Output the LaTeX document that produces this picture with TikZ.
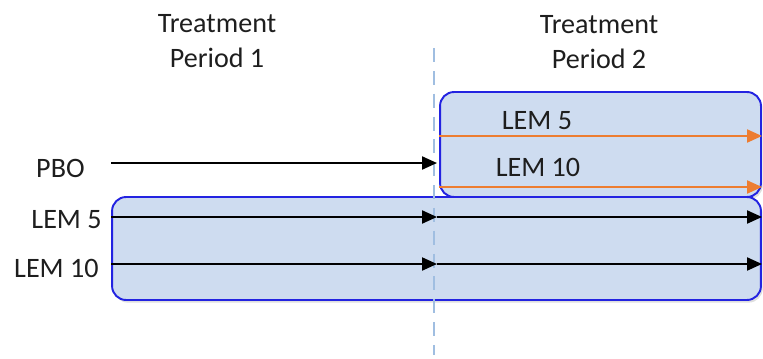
\documentclass[tikz,border=0pt]{standalone}
\usepackage{fontspec}
\setmainfont{Carlito}
\usetikzlibrary{arrows.meta,shadows}
\definecolor{boxfill}{RGB}{206,220,240}
\definecolor{boxline}{RGB}{35,35,225}
\definecolor{armcol}{RGB}{237,125,49}
\definecolor{splitcol}{RGB}{160,190,225}
\definecolor{txtcol}{RGB}{30,30,30}

\begin{document}
\begin{tikzpicture}[
    x=0.02cm, y=-0.02cm,
    >={Triangle[length=3mm,width=2.6mm]},
    period/.style={rectangle, rounded corners=8pt, draw=boxline, fill=boxfill, line width=1.1pt, drop shadow={opacity=0.25, shadow xshift=1pt, shadow yshift=-1.5pt}},
    lbl/.style={font=\fontsize{16}{20}\selectfont, text=txtcol, inner sep=0pt, align=center},
    arr/.style={->, line width=1.2pt, black},
    armarr/.style={->, line width=1.2pt, armcol},
]
\useasboundingbox (0,0) rectangle (763,358);

% period boxes
\node[period, minimum width=6.42cm, minimum height=2.1cm] (upper) at (600.5,144.5) {};
\node[period, minimum width=12.98cm, minimum height=2.06cm] (lower) at (436.5,248.5) {};

% switch line
\coordinate (stop) at (434,48);
\coordinate (sbot) at (434,355);
\draw[splitcol, line width=1pt, dash pattern=on 8pt off 5pt] (stop) -- (sbot);

% headings
\node[lbl] (t1) at (217,41) {Treatment\\Period 1};
\node[lbl] (t2) at (599,42) {Treatment\\Period 2};

% arm labels
\node[lbl, anchor=east] (pbo) at (85,168) {PBO};
\node[lbl, anchor=east] (lem5) at (102,220) {LEM 5};
\node[lbl, anchor=east] (lem10) at (99,268) {LEM 10};
\node[lbl] (rlem5) at (537,121) {LEM 5};
\node[lbl] (rlem10) at (538,167) {LEM 10};

% rows
\coordinate (rowp) at (0,163);
\coordinate (row5) at (0,217);
\coordinate (row10) at (0,264);
\coordinate (rowa) at (0,136);
\coordinate (rowb) at (0,187);
\coordinate (cut) at (437,0);
\coordinate (tipx) at (762,0);

\draw[arr] (lower.west |- rowp) -- (cut |- rowp);
\draw[arr] (lower.west |- row5) -- (cut |- row5);
\draw[arr] (lower.west |- row10) -- (cut |- row10);
\draw[arr] (cut |- row5) -- (tipx |- row5);
\draw[arr] (cut |- row10) -- (tipx |- row10);
\draw[armarr] (upper.west |- rowa) -- (tipx |- rowa);
\draw[armarr] (upper.west |- rowb) -- (tipx |- rowb);
\end{tikzpicture}
\end{document}
